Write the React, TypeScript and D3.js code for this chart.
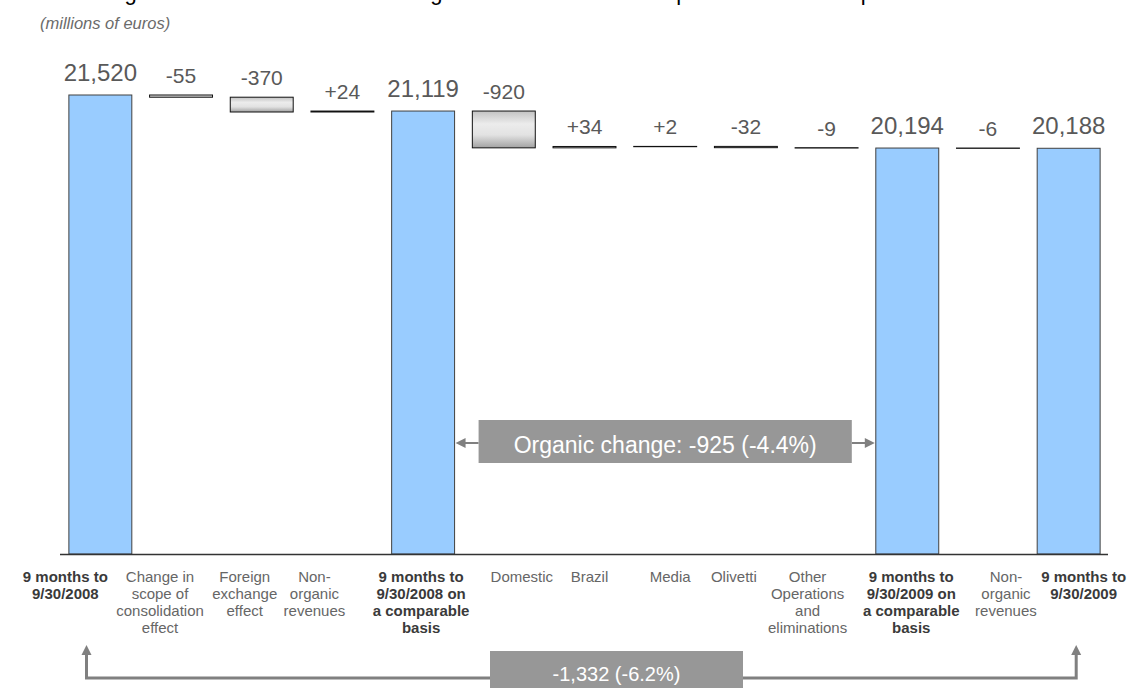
import React from "react";
import * as d3 from "d3";

const titleText = "Change in consolidated revenues: organic revenues on a comparable basis vs reported";
const unitText = "(millions of euros)";

const categories: string[][] = [
  ["9 months to", "9/30/2008"],
  ["Change in", "scope of", "consolidation", "effect"],
  ["Foreign", "exchange", "effect"],
  ["Non-", "organic", "revenues"],
  ["9 months to", "9/30/2008 on", "a comparable", "basis"],
  ["Domestic"],
  ["Brazil"],
  ["Media"],
  ["Olivetti"],
  ["Other", "Operations", "and", "eliminations"],
  ["9 months to", "9/30/2009 on", "a comparable", "basis"],
  ["Non-", "organic", "revenues"],
  ["9 months to", "9/30/2009"],
];
const values = [21520, -55, -370, 24, 21119, -920, 34, 2, -32, -9, 20194, -6, 20188];
const isTotal = [true, false, false, false, true, false, false, false, false, false, true, false, true];
const valueLabels = ["21,520", "-55", "-370", "+24", "21,119", "-920", "+34", "+2", "-32", "-9", "20,194", "-6", "20,188"];
const organicLabel = "Organic change: -925 (-4.4%)";
const totalChangeLabel = "-1,332 (-6.2%)";
const yDomain = [10045, 21520];

// horizontal offsets of the category label columns relative to the bar centres (layout only)
const labelShift = [-35, -21, -17, -28, -2, 18, 5, 5, -12, -19, 4, 18, 15];

const FONT = "'Liberation Sans', Arial, sans-serif";

export default function App() {
  const x = d3
    .scaleBand<string>()
    .domain(values.map((_, i) => String(i)))
    .range([60, 1109])
    .paddingInner(0.22)
    .paddingOuter(0.11);
  const y = d3.scaleLinear().domain(yDomain).range([554, 95]);
  const bw = x.bandwidth();

  let running = 0;
  const bars = values.map((v, i) => {
    const xi = x(String(i)) as number;
    if (isTotal[i]) {
      running = v;
      return { i, x: xi, top: y(v), bottom: y(yDomain[0]), total: true };
    }
    const start = running;
    const end = running + v;
    running = end;
    return {
      i,
      x: xi,
      top: y(Math.max(start, end)),
      bottom: y(Math.min(start, end)),
      total: false,
    };
  });

  const x4r = (x("4") as number) + bw;
  const x10l = x("10") as number;
  const boxL = x4r + 24;
  const boxR = x10l - 24;
  const orgY = 443;

  const leftArrowX = (x("0") as number) + bw * 0.28;
  const rightArrowX = (x("12") as number) + bw * 0.62;
  const lineY = 678;
  const tipY = 645;
  const box2L = 490;
  const box2R = 743;

  return (
    <svg
      width={1137}
      height={688}
      style={{ position: "absolute", left: 0, top: 0, background: "#fff" }}
      fontFamily={FONT}
    >
      <defs>
        <linearGradient id="grayGrad" x1="0" y1="0" x2="0" y2="1">
          <stop offset="0%" stopColor="#c2c2c2" />
          <stop offset="35%" stopColor="#ececec" />
          <stop offset="65%" stopColor="#e2e2e2" />
          <stop offset="100%" stopColor="#a2a2a2" />
        </linearGradient>
      </defs>
      <rect x={0} y={0} width={1137} height={688} fill="#fff" />

      <text x={72} y={0} fontSize={22} fill="#000">
        {titleText}
      </text>
      <text x={40} y={29} fontSize={16.5} fontStyle="italic" fill="#6b6b6b">
        {unitText}
      </text>

      {bars.map((b) =>
        b.total ? (
          <rect
            key={b.i}
            x={b.x}
            y={b.top}
            width={bw}
            height={b.bottom - b.top}
            fill="#99ccff"
            stroke="#404040"
            strokeWidth={1}
          />
        ) : (
          <rect
            key={b.i}
            x={b.x}
            y={b.top}
            width={bw}
            height={Math.max(0.3, b.bottom - b.top)}
            fill="url(#grayGrad)"
            stroke="#111"
            strokeWidth={1}
          />
        )
      )}

      <line x1={60} x2={1108} y1={554.5} y2={554.5} stroke="#333" strokeWidth={1.5} />

      {bars.map((b) => (
        <text
          key={"v" + b.i}
          x={b.x + bw / 2}
          y={b.top - (b.total ? 14 : 12)}
          textAnchor="middle"
          fontSize={b.total ? 24 : 21}
          fill="#595959"
        >
          {valueLabels[b.i]}
        </text>
      ))}

      {categories.map((lines, i) => {
        const cx = (x(String(i)) as number) + bw / 2 + labelShift[i];
        return (
          <text
            key={"c" + i}
            x={cx}
            y={582}
            textAnchor="middle"
            fontSize={15}
            fontWeight={isTotal[i] ? "bold" : "normal"}
            fill={isTotal[i] ? "#3a3a3a" : "#666666"}
          >
            {lines.map((l, k) => (
              <tspan key={k} x={cx} dy={k === 0 ? 0 : 17}>
                {l}
              </tspan>
            ))}
          </text>
        );
      })}

      {/* organic change annotation */}
      <line x1={boxL} x2={x4r + 8} y1={orgY} y2={orgY} stroke="#808080" strokeWidth={2} />
      <path d={`M${x4r + 1},${orgY} l10,-5 l0,10 Z`} fill="#808080" />
      <line x1={boxR} x2={x10l - 8} y1={orgY} y2={orgY} stroke="#808080" strokeWidth={2} />
      <path d={`M${x10l - 1},${orgY} l-10,-5 l0,10 Z`} fill="#808080" />
      <rect x={boxL} y={420} width={boxR - boxL} height={43} fill="#979797" />
      <text x={(boxL + boxR) / 2} y={453} textAnchor="middle" fontSize={23} fill="#fff">
        {organicLabel}
      </text>

      {/* total change annotation */}
      <path
        d={`M${box2L},${lineY} H${leftArrowX} V${tipY + 8}`}
        fill="none"
        stroke="#808080"
        strokeWidth={3}
      />
      <path d={`M${leftArrowX},${tipY} l-5,10 l10,0 Z`} fill="#808080" />
      <path
        d={`M${box2R},${lineY} H${rightArrowX} V${tipY + 8}`}
        fill="none"
        stroke="#808080"
        strokeWidth={3}
      />
      <path d={`M${rightArrowX},${tipY} l-5,10 l10,0 Z`} fill="#808080" />
      <rect x={box2L} y={651} width={box2R - box2L} height={40} fill="#979797" />
      <text x={(box2L + box2R) / 2} y={681} textAnchor="middle" fontSize={20} fill="#fff">
        {totalChangeLabel}
      </text>
    </svg>
  );
}
